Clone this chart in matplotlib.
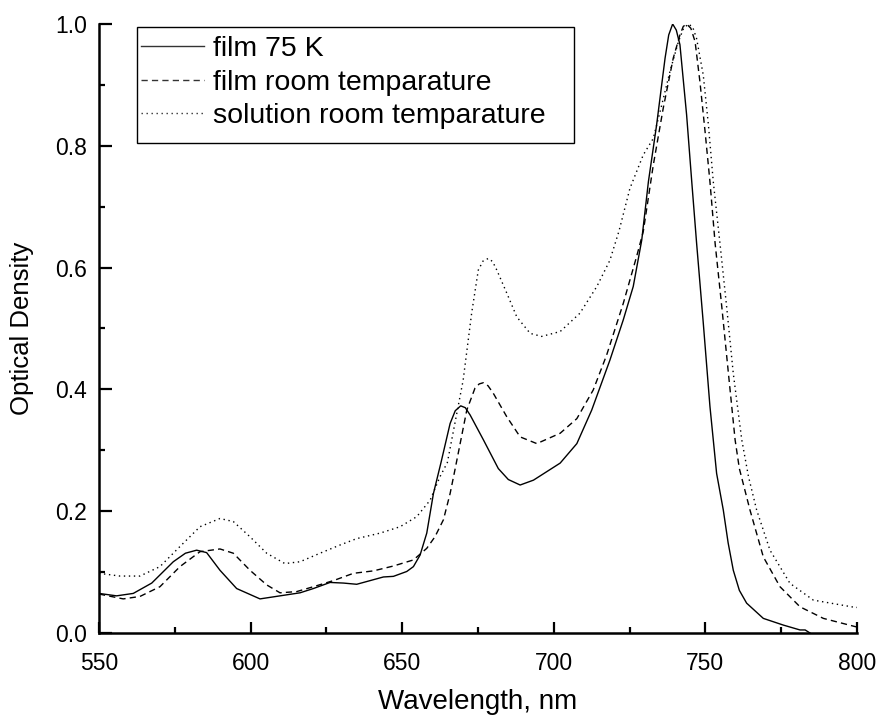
import matplotlib
matplotlib.use("Agg")
import matplotlib.pyplot as plt
from matplotlib.ticker import MultipleLocator, FormatStrFormatter
from matplotlib.patches import Rectangle

plt.rcParams['font.family'] = ['Liberation Sans', 'DejaVu Sans']

# film 75 K
film75_x = [550, 555.8, 561.3, 567.4, 574.5, 578.5, 582.2, 585.5, 589.9, 595.4, 603.1, 609.7, 616.3,
            620.7, 626.2, 630.6, 635, 639.4, 643.8, 647.1, 651.5, 653.7, 655.9, 658.1, 660.3,
            662.8, 665.8, 667.5, 669.3, 670.8, 672.4, 676.8, 681.7, 685.0, 688.9, 693.3, 702.1, 707.6, 712.5,
            718.5, 722.9, 726.2, 729, 731.2, 733.9, 736.7, 737.9, 739.2, 740.4, 741.6, 743.8, 745.5, 747.1,
            749.3, 751.5, 753.7, 755.9, 757.5, 759.2, 761.2, 763.6, 769.1, 775.7, 781.2, 782.9, 784.5]
film75_y = [0.065, 0.061, 0.065, 0.082, 0.117, 0.131, 0.136, 0.132, 0.103, 0.073, 0.056, 0.061, 0.066,
            0.073, 0.083, 0.082, 0.080, 0.086, 0.092, 0.093, 0.101, 0.109, 0.128, 0.164, 0.229,
            0.28, 0.344, 0.365, 0.373, 0.370, 0.358, 0.317, 0.270, 0.252, 0.243, 0.251, 0.279, 0.311, 0.366,
            0.448, 0.514, 0.569, 0.645, 0.741, 0.834, 0.944, 0.982, 1.0, 0.99, 0.966, 0.851, 0.741, 0.640,
            0.509, 0.372, 0.262, 0.202, 0.148, 0.103, 0.07, 0.049, 0.024, 0.013, 0.005, 0.005, 0.0]

# film room temperature
filmrt_x = [550, 558, 563.5, 570.1, 576.7, 583.3, 589.9, 594.3, 599.8, 605.3, 609.7, 615.2,
            620.7, 627.3, 633.9, 640.5, 647.1, 653.7, 658.1, 660.8, 663.6, 665.8, 667.4,
            671.3, 674, 675.4, 676.8, 678.3, 680, 684.5, 688.9, 694.4, 702.1, 707.6, 713, 717.4, 722.9,
            727.3, 729.5, 732.8, 736.1, 739.4, 741.6, 742.7, 743.8, 745.2, 746.6, 748.2, 749.9, 751.5,
            753.2, 755.4, 757.6, 759.8, 761.2, 764.7, 769.1, 774.6, 781.2, 788.9, 799.4, 800]
filmrt_y = [0.064, 0.056, 0.060, 0.076, 0.109, 0.1335, 0.138, 0.131, 0.103, 0.079, 0.066, 0.068,
            0.076, 0.086, 0.098, 0.102, 0.110, 0.120, 0.139, 0.158, 0.186, 0.229, 0.268,
            0.366, 0.402, 0.409, 0.411, 0.406, 0.394, 0.355, 0.322, 0.311, 0.328, 0.352, 0.399, 0.456, 0.541,
            0.618, 0.659, 0.768, 0.862, 0.944, 0.982, 0.996, 1.0, 0.993, 0.971, 0.905, 0.823, 0.741,
            0.640, 0.536, 0.426, 0.317, 0.27, 0.202, 0.125, 0.076, 0.043, 0.024, 0.0105, 0.010]

# solution room temperature
solrt_x = [550, 556.9, 563.5, 570.1, 576.7, 583.3, 589.9, 594.3, 599.8, 605.3, 611.3, 616.3,
           622.9, 629.5, 635, 642.7, 649.3, 654.8, 659.2, 662.5, 664.9, 670.1, 672.9, 675.1,
           676.7, 678.4, 679.8, 681.2, 684.5, 687.8, 692.2, 696, 702.1, 708.6, 714.2, 718.5, 721.5, 725.1,
           729.5, 732.8, 735.6, 738.3, 741.1, 742.8, 744.4, 745.8, 747.1, 749.3, 751, 752.6, 754.8, 757,
           759.2, 762, 764.2, 766.9, 771.3, 777.9, 785.6, 799.4, 800]
solrt_y = [0.098, 0.0935, 0.0935, 0.109, 0.142, 0.1745, 0.188, 0.183, 0.158, 0.131, 0.114, 0.117,
           0.131, 0.1445, 0.155, 0.164, 0.1745, 0.191, 0.218, 0.257, 0.28, 0.415, 0.525, 0.596,
           0.611, 0.615, 0.610, 0.596, 0.558, 0.519, 0.492, 0.487, 0.495, 0.525, 0.569, 0.612, 0.66, 0.730,
           0.785, 0.812, 0.867, 0.922, 0.971, 0.993, 1.0, 0.995, 0.976, 0.916, 0.834, 0.741, 0.640, 0.536,
           0.426, 0.317, 0.257, 0.202, 0.136, 0.0815, 0.054, 0.042, 0.042]

labels = ["film 75 K", "film room temparature", "solution room temparature"]

W, H = 878, 719
fig = plt.figure(figsize=(W/100, H/100), dpi=100)
ax = fig.add_axes([99/W, 1-633/H, 758/W, 609/H])

ax.plot(film75_x, film75_y, color='black', lw=1.0, label=labels[0])
ax.plot(filmrt_x, filmrt_y, color='black', lw=1.0, dashes=(4.5, 3), label=labels[1])
ax.plot(solrt_x, solrt_y, color='black', lw=1.0, dashes=(1, 2.6), label=labels[2])

ax.set_xlim(550, 800)
ax.set_ylim(0, 1.0)
ax.xaxis.set_major_locator(MultipleLocator(50))
ax.xaxis.set_minor_locator(MultipleLocator(25))
ax.yaxis.set_major_locator(MultipleLocator(0.2))
ax.yaxis.set_minor_locator(MultipleLocator(0.1))
ax.yaxis.set_major_formatter(FormatStrFormatter('%.1f'))

for s in ['top', 'right']:
    ax.spines[s].set_visible(False)
for s in ['left', 'bottom']:
    ax.spines[s].set_linewidth(1.8)

ax.tick_params(axis='x', which='major', direction='in', length=8, width=1.6, labelsize=16.5, pad=13.5)
ax.tick_params(axis='y', which='major', direction='in', length=9, width=1.6, labelsize=16.5, pad=8.5)
ax.tick_params(axis='both', which='minor', direction='in', length=4, width=1.6)

ax.set_xlabel("Wavelength, nm", fontsize=20, labelpad=10)
ax.set_ylabel("Optical Density", fontsize=18.5, labelpad=15)

# legend frame (Origin style, wider right margin)
frame = Rectangle(((137-99)/758, (633-143)/609), (574-137)/758, (143-27)/609,
                  transform=ax.transAxes, facecolor='white', edgecolor='black',
                  lw=1.0, zorder=4)
ax.add_patch(frame)

leg = ax.legend(loc='upper left', bbox_to_anchor=((141-99)/758, (633-36)/609), borderaxespad=0,
                fontsize=20.5, frameon=False, borderpad=0,
                handlelength=2.2, handletextpad=0.32, labelspacing=0.27)
leg.set_zorder(5)
for h in leg.get_lines():
    h.set_color('#333333')

fig.savefig("out.png", dpi=100)
